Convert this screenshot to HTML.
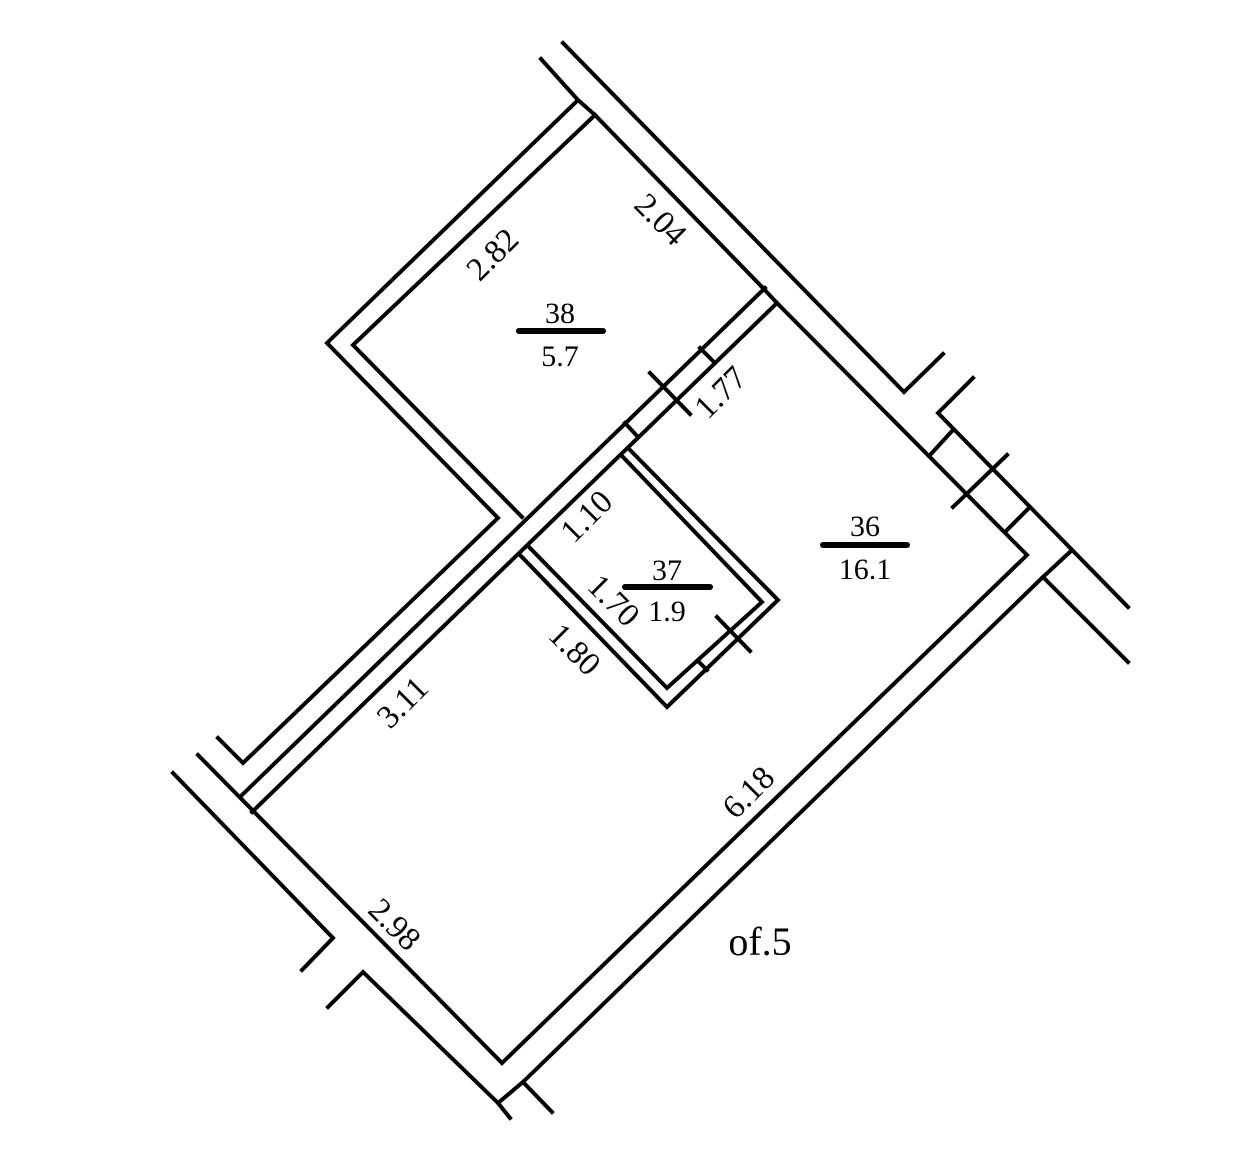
<!DOCTYPE html>
<html><head><meta charset="utf-8"><style>
html,body{margin:0;padding:0;background:#fff;}
svg{display:block;}
text{font-family:"Liberation Serif",serif;fill:#000;}
</style></head><body>
<svg width="1250" height="1170" viewBox="0 0 1250 1170" xmlns="http://www.w3.org/2000/svg">
<g fill="none" stroke="#000" stroke-width="4" stroke-linecap="square" stroke-linejoin="miter">
<polyline points="563,43 904,392 943,354"/>
<polyline points="973,378 938,413 1128,607"/>
<polyline points="541,59 578,100 327,343 498,518 243,763 218,738"/>
<line x1="578" y1="100" x2="595" y2="115"/>
<polyline points="595,115 353,345 522,517"/>
<line x1="595" y1="115" x2="762" y2="287"/>
<polyline points="777,303 1027,555 502,1063 198,755"/>
<line x1="765" y1="288" x2="242" y2="795"/>
<line x1="777" y1="303" x2="252" y2="812"/>
<line x1="762" y1="287" x2="777" y2="303"/>
<line x1="700" y1="348" x2="715" y2="363"/>
<line x1="650" y1="373" x2="690" y2="414"/>
<line x1="625" y1="423" x2="638" y2="437"/>
<polyline points="630,450 778,600 667,707 520,555"/>
<polyline points="623,457 762,602 667,688 530,548"/>
<line x1="717" y1="617" x2="750" y2="651"/>
<line x1="700" y1="663" x2="707" y2="670"/>
<line x1="953" y1="430" x2="930" y2="455"/>
<line x1="1030" y1="507" x2="1005" y2="532"/>
<line x1="1007" y1="455" x2="953" y2="507"/>
<polyline points="1072,550 1043,577 1128,662"/>
<polyline points="1043,577 523,1082 552,1112"/>
<line x1="523" y1="1082" x2="498" y2="1103"/>
<polyline points="510,1118 498,1103 363,972 328,1007"/>
<polyline points="173,773 333,938 302,970"/>
</g>
<g stroke="#000" stroke-width="6" stroke-linecap="round">
<line x1="519" y1="331" x2="603" y2="331"/>
<line x1="823" y1="545" x2="907" y2="545"/>
<line x1="625" y1="587" x2="710" y2="587"/>
</g>
<g font-size="30" text-anchor="middle">
<text x="560" y="323">38</text>
<text x="560" y="366">5.7</text>
<text x="865" y="536">36</text>
<text x="865" y="579">16.1</text>
<text x="667" y="580">37</text>
<text x="667" y="621">1.9</text>
</g>
<g font-size="33" text-anchor="middle">
<text transform="translate(500,262) rotate(-45)">2.82</text>
<text transform="translate(653,227) rotate(45)">2.04</text>
<text transform="translate(728,400) rotate(-45)">1.77</text>
<text transform="translate(594,524) rotate(-45)">1.10</text>
<text transform="translate(606,608) rotate(45)">1.70</text>
<text transform="translate(567,657) rotate(45)">1.80</text>
<text transform="translate(410,710) rotate(-45)">3.11</text>
<text transform="translate(756,800) rotate(-45)">6.18</text>
<text transform="translate(387,932) rotate(45)">2.98</text>
</g>
<text x="760" y="955" font-size="40" text-anchor="middle">of.5</text>
</svg>
</body></html>
